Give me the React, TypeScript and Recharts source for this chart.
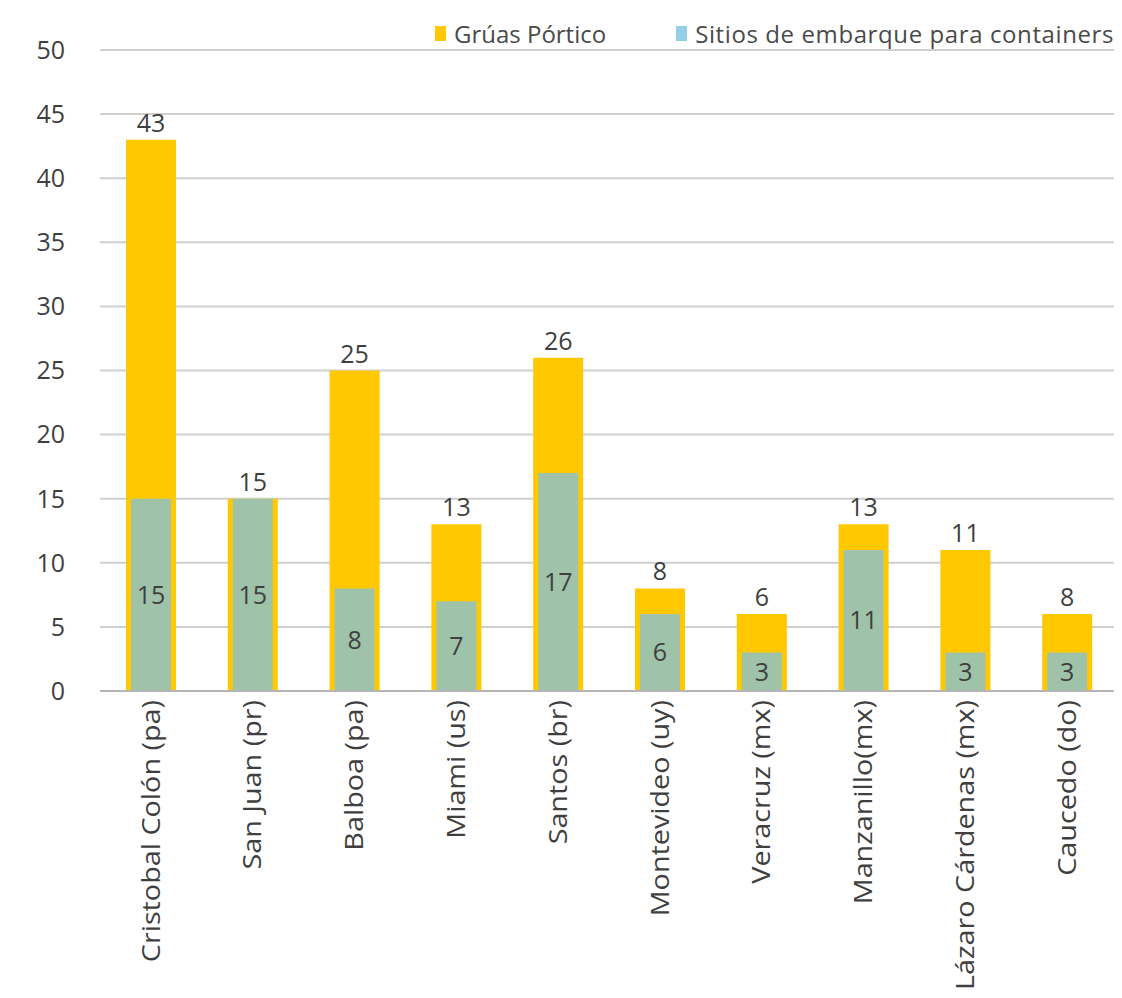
import React from 'react';
import { BarChart, Bar, XAxis, YAxis, CartesianGrid, Legend, LabelList } from 'recharts';

const ports = [
  'Cristobal Colón (pa)',
  'San Juan (pr)',
  'Balboa (pa)',
  'Miami (us)',
  'Santos (br)',
  'Montevideo (uy)',
  'Veracruz (mx)',
  'Manzanillo(mx)',
  'Lázaro Cárdenas (mx)',
  'Caucedo (do)',
];

// bar heights as drawn; the Caucedo bar is drawn at 6 but labelled 8
const gruas = [43, 15, 25, 13, 26, 8, 6, 13, 11, 6];
const gruasLabels = [43, 15, 25, 13, 26, 8, 6, 13, 11, 8];
const sitios = [15, 15, 8, 7, 17, 6, 3, 11, 3, 3];

const yTicks = [0, 5, 10, 15, 20, 25, 30, 35, 40, 45, 50];

const YELLOW = '#FFC800';
const GREEN = '#9FC3A8';
const BLUE = '#92D0E6';
const TEXT = '#3f3f3f';
const FONT = '"Open Sans", sans-serif';

const data = ports.map((port, i) => ({
  port,
  gruas: gruas[i],
  gruasLabel: gruasLabels[i],
  sitios: sitios[i],
}));

const PortTick = ({ x, y, payload }: any) => (
  <g transform={`translate(${x},${y + 1})`}>
    <text
      transform="rotate(-90) scale(1.15,1)"
      textAnchor="end"
      dy="0.35em"
      fill={TEXT}
      fontSize={25}
      fontFamily={FONT}
    >
      {payload.value}
    </text>
  </g>
);

const LegendContent = () => (
  <div
    style={{
      display: 'flex',
      justifyContent: 'flex-end',
      alignItems: 'center',
      height: 34,
      fontFamily: FONT,
      fontSize: 24,
      color: '#4a4a4a',
      whiteSpace: 'nowrap',
      paddingRight: 4,
    }}
  >
    <span style={{ width: 11, height: 15, background: YELLOW, marginRight: 8 }} />
    <span style={{ marginRight: 70 }}>Grúas Pórtico</span>
    <span style={{ width: 11, height: 15, background: BLUE, marginRight: 8 }} />
    <span style={{ letterSpacing: 0.6 }}>Sitios de embarque para containers</span>
  </div>
);

const App: React.FC = () => (
  <BarChart
    width={1110}
    height={990}
    data={data}
    margin={{ top: 8, right: 0, left: 0, bottom: 0 }}
    barGap={0}
  >
    <CartesianGrid vertical={false} stroke="#cfcfcf" strokeWidth={2} />
    <Legend verticalAlign="top" align="right" height={34} content={<LegendContent />} />
    <XAxis
      xAxisId="main"
      dataKey="port"
      interval={0}
      height={307}
      tickLine={false}
      axisLine={{ stroke: '#b5b5b5', strokeWidth: 2 }}
      tick={<PortTick />}
    />
    <XAxis xAxisId="inner" dataKey="port" hide height={0} />
    <YAxis
      width={92}
      domain={[0, 50]}
      ticks={yTicks}
      axisLine={false}
      tickLine={false}
      tickMargin={29}
      tick={{ fill: TEXT, fontSize: 25, fontFamily: FONT }}
    />
    <Bar xAxisId="main" dataKey="gruas" fill={YELLOW} barSize={50} isAnimationActive={false}>
      <LabelList
        dataKey="gruasLabel"
        position="top"
        offset={8}
        fill={TEXT}
        fontSize={25}
        fontFamily={FONT}
      />
    </Bar>
    <Bar xAxisId="inner" dataKey="sitios" fill={GREEN} barSize={40} isAnimationActive={false}>
      <LabelList
        dataKey="sitios"
        position="center"
        fill={TEXT}
        fontSize={25}
        fontFamily={FONT}
      />
    </Bar>
  </BarChart>
);

export default App;
